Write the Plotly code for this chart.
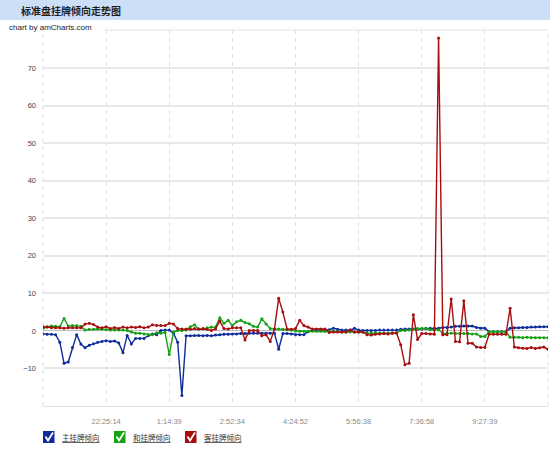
import plotly.graph_objects as go

# ---------------- data ----------------
title_text = "标准盘挂牌倾向走势图"
credit_text = "chart by amCharts.com"
series_names = ["主挂牌倾向", "和挂牌倾向", "客挂牌倾向"]

n_points = 121
tick_idx = [0, 15, 30, 45, 60, 75, 90, 105, 120]
tick_text = ["", "22:25:14", "1:14:39", "2:52:34", "4:24:52", "5:56:38", "7:36:58", "9:27:39", ""]
y_ticks = [-10, 0, 10, 20, 30, 40, 50, 60, 70]

home = [
    -0.8, -0.9, -0.9, -1.0, -3.0, -8.6, -8.3, -4.4, -1.0, -3.5,
    -4.5, -3.8, -3.4, -3.0, -2.8, -2.6, -2.8, -2.7, -3.2, -5.8,
    -1.2, -3.5, -2.0, -2.0, -2.0, -1.3, -0.8, -1.0, 0.1, 0.2,
    0.2, -0.6, -3.0, -17.2, -1.3, -1.3, -1.2, -1.2, -1.3, -1.2,
    -1.3, -1.1, -1.0, -0.9, -0.9, -0.8, -0.8, -0.7, -0.7, -0.6,
    -0.6, -0.6, -0.6, -0.6, -0.6, -0.6, -4.9, -0.7, -0.7, -0.8,
    -1.0, -1.0, -1.0, -0.2, 0.2, 0.2, 0.2, 0.2, 0.3, 0.7,
    0.4, 0.2, 0.2, 0.2, 0.7, 0.2, 0.1, 0.1, 0.1, 0.1,
    0.2, 0.2, 0.2, 0.2, 0.2, 0.4, 0.5, 0.5, 0.5, 0.5,
    0.5, 0.6, 0.7, 0.7, 0.7, 0.9, 0.9, 1.0, 1.2, 1.2,
    1.3, 1.3, 1.3, 0.9, 0.7, 0.7, -0.2, -0.2, -0.2, -0.2,
    -0.2, 0.7, 0.8, 0.8, 0.9, 0.9, 1.0, 1.0, 1.1, 1.1,
    1.1,
]

draw = [
    0.7, 1.1, 1.3, 1.2, 1.1, 3.3, 1.3, 1.4, 1.4, 1.2,
    0.2, 0.4, 0.4, 0.5, 0.4, 0.3, 0.2, 0.2, 0.2, 0.2,
    0.1, -0.3, -0.6, -0.6, -0.8, -1.0, -1.0, -0.5, -0.6, -0.4,
    -6.3, -0.3, 0.1, 0.1, 0.2, 1.1, 1.6, 0.5, 0.5, 0.8,
    1.0, 1.0, 3.5, 2.0, 2.8, 1.4, 2.4, 2.8, 2.2, 1.9,
    1.2, 1.0, 3.2, 1.8, 0.6, 0.5, 0.5, 0.4, 0.3, 0.2,
    0.0, -0.1, -0.1, -0.1, -0.1, -0.1, -0.1, -0.1, -0.1, -0.1,
    -0.1, -0.3, -0.3, -0.3, -0.3, -0.3, -0.3, -0.6, -0.6, -0.6,
    -0.6, -0.6, -0.6, -0.6, -0.6, 0.1, 0.1, 0.2, 0.5, 0.6,
    0.6, 0.7, 0.3, 0.3, 0.3, -0.6, -0.6, -0.6, -0.7, -0.7,
    -0.7, -0.7, -0.8, -0.8, -1.5, -1.5, -0.2, -0.2, -0.2, -0.2,
    -0.2, -1.7, -1.7, -1.7, -1.8, -1.7, -1.8, -1.8, -1.8, -1.8,
    -1.8,
]

away = [
    1.1, 1.0, 0.8, 0.8, 0.8, 0.7, 0.8, 0.8, 0.8, 0.8,
    1.8, 2.0, 1.7, 1.0, 0.8, 1.1, 0.6, 0.9, 0.6, 1.0,
    0.8, 1.0, 0.9, 1.1, 0.8, 1.0, 1.6, 1.4, 1.4, 1.4,
    2.0, 1.8, 0.6, 0.5, 0.5, 0.4, 0.6, 0.5, 0.6, 0.4,
    0.1, 0.5, 2.6, 0.6, 0.5, 0.8, 0.8, 0.8, -2.4, 0.1,
    0.1, 0.1, -1.3, -1.0, -2.8, 0.5, 8.7, 5.0, 0.5, 0.4,
    0.6, 2.8, 1.4, 1.0, 0.5, 0.5, 0.5, 0.5, -0.4, -0.3,
    -0.3, -0.3, -0.3, 0.2, -0.3, -0.3, -0.3, -1.0, -1.1, -0.9,
    -0.8, -0.7, -0.8, -0.6, -0.5, -3.7, -9.0, -8.6, 4.3, -2.3,
    -0.7, -0.7, -0.8, -0.9, 78.0, -1.0, -1.0, 8.5, -2.8, -2.9,
    8.0, -3.3, -3.3, -4.3, -4.4, -4.4, -0.9, -0.9, -0.9, -0.9,
    -0.9, 6.0, -4.3, -4.5, -4.6, -4.7, -4.4, -4.7, -4.5, -4.3,
    -4.9,
]

colors = ["#0e2c9c", "#14a114", "#a80e0e"]

# ---------------- geometry helpers (pixel -> paper) ----------------
W, H = 550, 449
ML, MR, MT, MB = 43, 2, 30, 43
PW, PH = W - ML - MR, H - MT - MB


def px(xp):
    return (xp - ML) / PW


def py(yp):
    return (H - MB - yp) / PH


x_idx = list(range(n_points))

fig = go.Figure()
for name, vals, col in zip(series_names, [home, draw, away], colors):
    fig.add_trace(go.Scatter(
        x=x_idx, y=vals, name=name, mode="lines+markers",
        line=dict(color=col, width=1.4),
        marker=dict(size=3, color=col),
        showlegend=False,
    ))

shapes = []
annotations = []

# title bar
shapes.append(dict(type="rect", xref="paper", yref="paper",
                   x0=px(0), x1=px(W), y0=py(20), y1=py(0),
                   fillcolor="#cddff6", line=dict(width=0), layer="below"))
annotations.append(dict(xref="paper", yref="paper", x=px(19), y=py(10.5),
                        text="<b>" + title_text + "</b>", showarrow=False,
                        xanchor="left", yanchor="middle",
                        font=dict(family="Noto Sans CJK SC", size=10, color="#1e1e1e")))
# top border of plot area
shapes.append(dict(type="line", xref="paper", yref="paper",
                   x0=px(103), x1=1, y0=1, y1=1,
                   line=dict(color="#e4e4e4", width=1)))
# dashed edge lines
for ex in (0, 1):
    shapes.append(dict(type="line", xref="paper", yref="paper",
                       x0=ex, x1=ex, y0=0, y1=1, layer="below",
                       line=dict(color="#e0e0e0", width=1, dash="4px,4px")))
annotations.append(dict(xref="paper", yref="paper", x=px(7), y=py(27.5),
                        text=credit_text, showarrow=False,
                        xanchor="left", yanchor="middle",
                        font=dict(family="Liberation Sans", size=8, color="#222")))

# custom checkbox legend
box_x = [43, 114, 185]
for bx, name, col in zip(box_x, series_names, colors):
    shapes.append(dict(type="rect", xref="paper", yref="paper",
                       x0=px(bx), x1=px(bx + 11.5), y0=py(443), y1=py(431),
                       fillcolor=col, line=dict(width=0)))
    path = "M {} {} L {} {} L {} {}".format(
        px(bx + 2.5), py(436.5), px(bx + 5), py(440.5), px(bx + 10), py(432.5))
    shapes.append(dict(type="path", xref="paper", yref="paper", path=path,
                       line=dict(color="white", width=1.8)))
    annotations.append(dict(xref="paper", yref="paper", x=px(bx + 17), y=py(437.5),
                            text="<u>" + name + "</u>", showarrow=False,
                            xanchor="left", yanchor="middle",
                            font=dict(family="Noto Sans CJK SC", size=7.5, color="#333")))

fig.update_layout(
    width=W, height=H,
    margin=dict(l=ML, r=MR, t=MT, b=MB),
    paper_bgcolor="white", plot_bgcolor="white",
    font=dict(family="Liberation Sans, Noto Sans CJK SC", size=8, color="#333"),
    shapes=shapes, annotations=annotations,
    showlegend=False,
    xaxis=dict(range=[0, n_points - 1], tickmode="array", tickvals=tick_idx, ticktext=tick_text,
               showgrid=True, gridcolor="#e0e0e0", griddash="4px,4px", gridwidth=1,
               zeroline=False, showline=True, linecolor="#e2e2e2", linewidth=1,
               ticks="", tickfont=dict(size=7.5, color="#8a8a8a"), ticklabelstandoff=8,
               fixedrange=True),
    yaxis=dict(range=[-20, 80.1], tickmode="array", tickvals=y_ticks,
               showgrid=True, gridcolor="#e8e8e8", gridwidth=1.5,
               zeroline=True, zerolinecolor="#bdbdbd", zerolinewidth=1,
               showline=False, ticks="", tickfont=dict(size=7.5, color="#444"),
               ticklabelstandoff=6, fixedrange=True),
)

fig.write_html("out.html", config={"displayModeBar": False},
               post_script="document.body.style.margin='0';document.body.style.overflow='hidden';")
